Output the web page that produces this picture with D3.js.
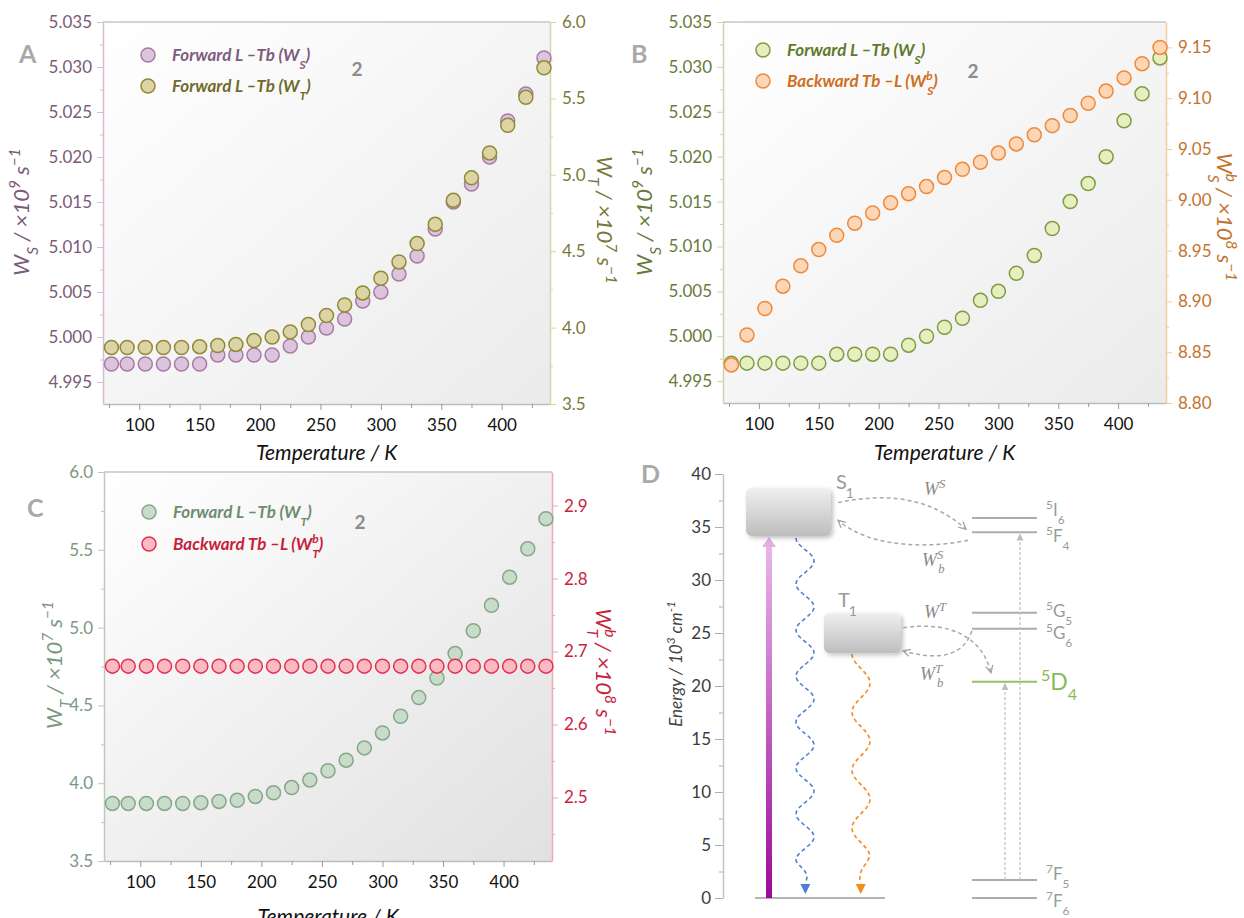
<!DOCTYPE html>
<html>
<head>
<meta charset="utf-8">
<script src="https://cdn.jsdelivr.net/npm/d3@7"></script>
<style>
  body { margin: 0; background: #fff; }
  svg { display: block; }
</style>
</head>
<body>
<svg id="fig" width="1244" height="918"></svg>
<script>
// ---- data ----
const temps = [77, 90, 105, 120, 135, 150, 165, 180, 195, 210, 225, 240, 255,
               270, 285, 300, 315, 330, 345, 360, 375, 390, 405, 420, 435];
// forward singlet rate W_S (x10^9 s^-1)
const wS = [4.997, 4.997, 4.997, 4.997, 4.997, 4.997, 4.998, 4.998, 4.998, 4.998, 4.999, 5.000, 5.001,
            5.002, 5.004, 5.005, 5.007, 5.009, 5.012, 5.015, 5.017, 5.020, 5.024, 5.027, 5.031];
// forward triplet rate W_T (x10^7 s^-1)
const wT = [3.870, 3.870, 3.870, 3.870, 3.870, 3.875, 3.883, 3.890, 3.915, 3.938, 3.972, 4.020, 4.080,
            4.148, 4.227, 4.323, 4.430, 4.550, 4.676, 4.833, 4.980, 5.143, 5.324, 5.507, 5.700];
// backward singlet rate W_S^b (x10^8 s^-1)
const wSb = [8.8375, 8.867, 8.893, 8.915, 8.935, 8.951, 8.965, 8.977, 8.987, 8.997, 9.006, 9.013, 9.022,
             9.030, 9.037, 9.046, 9.055, 9.064, 9.073, 9.083, 9.095, 9.107, 9.120, 9.134, 9.150];
// backward triplet rate W_T^b (x10^8 s^-1)
const wTb = [2.68, 2.68, 2.68, 2.68, 2.68, 2.68, 2.68, 2.68, 2.68, 2.68, 2.68, 2.68, 2.68,
             2.68, 2.68, 2.68, 2.68, 2.68, 2.68, 2.68, 2.68, 2.68, 2.68, 2.68, 2.68];

const xTicks = [100, 150, 200, 250, 300, 350, 400];
const xMinor = [75, 125, 175, 225, 275, 325, 375, 425];
const wsTicks = [4.995, 5.000, 5.005, 5.010, 5.015, 5.020, 5.025, 5.030, 5.035];
const wsMinor = [4.9975, 5.0025, 5.0075, 5.0125, 5.0175, 5.0225, 5.0275, 5.0325];
const wtTicks = [3.5, 4.0, 4.5, 5.0, 5.5, 6.0];
const wtMinor = [3.75, 4.25, 4.75, 5.25, 5.75];
const wsbTicks = [8.80, 8.85, 8.90, 8.95, 9.00, 9.05, 9.10, 9.15];
const wsbMinor = [8.825, 8.875, 8.925, 8.975, 9.025, 9.075, 9.125];
const wtbTicks = [2.5, 2.6, 2.7, 2.8, 2.9];
const wtbMinor = [2.45, 2.55, 2.65, 2.75, 2.85];

// energy level diagram (10^3 cm^-1)
const eTicks = [0, 5, 10, 15, 20, 25, 30, 35, 40];
const eMinor = [2.5, 7.5, 12.5, 17.5, 22.5, 27.5, 32.5, 37.5];
const levelSup = ['5', '5', '5', '5', '5', '7', '7'];
const levelTerm = ['I', 'F', 'G', 'G', 'D', 'F', 'F'];
const levelSub = ['6', '4', '5', '6', '4', '5', '6'];
const levelEnergy = [35.85, 34.5, 26.9, 25.4, 20.4, 1.7, 0];
const s1Range = [34.15, 38.7];
const t1Range = [23.1, 26.9];

const FONT = 'Lato, "Open Sans", "DejaVu Sans", sans-serif';
const SERIF = '"Liberation Serif", "DejaVu Serif", serif';
const tempDomain = [70, 440];

const svg = d3.select('#fig');
const defs = svg.append('defs');

function addBg(id, c2) {
  const lg = defs.append('linearGradient').attr('id', id)
    .attr('x1', 0).attr('y1', 0).attr('x2', 1).attr('y2', 1);
  lg.append('stop').attr('offset', '0%').attr('stop-color', '#ffffff');
  lg.append('stop').attr('offset', '100%').attr('stop-color', c2);
}
addBg('bgAB', '#ebebeb');
addBg('bgC', '#e1e1e1');

// text with sub / superscripts: parts = [[text, kind, dx]]
function rich(sel, parts) {
  parts.forEach(function(p) {
    const t = sel.append('tspan').text(p[0]);
    if (p[1] === 'sub') t.attr('baseline-shift', 'sub').attr('font-size', '70%');
    if (p[1] === 'sup') t.attr('baseline-shift', 'super').attr('font-size', '70%');
    if (p[2]) t.attr('dx', p[2]);
  });
  return sel;
}

function yAxis(g, scale, side, x, major, minor, fmt, color, lineColor, pad) {
  const ax = side === 'left' ? d3.axisLeft(scale) : d3.axisRight(scale);
  const a = g.append('g').attr('transform', 'translate(' + x + ',0)')
    .call(ax.tickValues(major).tickSize(6).tickSizeOuter(0).tickPadding(pad).tickFormat(fmt));
  a.select('.domain').attr('stroke', lineColor).attr('stroke-width', 1.5);
  a.selectAll('.tick line').attr('stroke', lineColor);
  a.selectAll('.tick text').attr('fill', color).attr('font-size', 17).attr('font-family', FONT);
  const ax2 = side === 'left' ? d3.axisLeft(scale) : d3.axisRight(scale);
  const m = g.append('g').attr('transform', 'translate(' + x + ',0)')
    .call(ax2.tickValues(minor).tickSize(3).tickSizeOuter(0).tickFormat(''));
  m.select('.domain').remove();
  m.selectAll('.tick line').attr('stroke', lineColor);
}

function panel(p) {
  const x = d3.scaleLinear().domain(tempDomain).range([p.left, p.right]);
  const yL = d3.scaleLinear().domain(p.L.domain).range([p.bottom, p.top]);
  const yR = d3.scaleLinear().domain(p.R.domain).range([p.bottom, p.top]);
  const g = svg.append('g');

  g.append('rect').attr('x', p.left).attr('y', p.top)
    .attr('width', p.right - p.left).attr('height', p.bottom - p.top)
    .attr('fill', 'url(#' + p.bg + ')');
  g.append('line').attr('x1', p.left).attr('x2', p.right).attr('y1', p.top).attr('y2', p.top)
    .attr('stroke', '#c6c6c6').attr('stroke-width', 1.5);

  // x axis
  const xa = g.append('g').attr('transform', 'translate(0,' + p.bottom + ')')
    .call(d3.axisBottom(x).tickValues(xTicks).tickSize(6).tickSizeOuter(0).tickPadding(9));
  xa.select('.domain').attr('stroke', '#bdbdbd').attr('stroke-width', 1.5);
  xa.selectAll('.tick line').attr('stroke', '#9a9a9a');
  xa.selectAll('.tick text').attr('fill', '#111').attr('font-size', 17).attr('font-family', FONT);
  const xm = g.append('g').attr('transform', 'translate(0,' + p.bottom + ')')
    .call(d3.axisBottom(x).tickValues(xMinor).tickSize(4).tickSizeOuter(0).tickFormat(''));
  xm.select('.domain').remove();
  xm.selectAll('.tick line').attr('stroke', '#9a9a9a');

  yAxis(g, yL, 'left', p.left, p.L.ticks, p.L.minor, p.L.fmt, p.L.color, p.L.line, 5);
  yAxis(g, yR, 'right', p.right, p.R.ticks, p.R.minor, p.R.fmt, p.R.color, p.R.line, 6);

  // titles
  g.append('text').attr('x', (p.left + p.right) / 2).attr('y', p.xTitleY)
    .attr('text-anchor', 'middle').attr('font-family', FONT).attr('font-size', 21)
    .attr('font-style', 'italic').attr('fill', '#111').text('Temperature / K');
  rich(g.append('text')
    .attr('transform', 'translate(' + p.L.titleX + ',' + p.L.titleY + ') rotate(-90)')
    .attr('text-anchor', 'middle').attr('font-family', FONT).attr('font-size', 22)
    .attr('font-style', 'italic').attr('fill', p.L.color), p.L.title);
  rich(g.append('text')
    .attr('transform', 'translate(' + p.R.titleX + ',' + p.R.titleY + ') rotate(90)')
    .attr('text-anchor', 'middle').attr('font-family', FONT).attr('font-size', 22)
    .attr('font-style', 'italic').attr('fill', p.R.color), p.R.title);

  // points
  p.series.forEach(function(s) {
    const y = s.axis === 'L' ? yL : yR;
    g.append('g').selectAll('circle').data(s.values).join('circle')
      .attr('cx', function(d, i) { return x(temps[i]); })
      .attr('cy', function(d) { return y(d); })
      .attr('r', 7)
      .attr('fill', s.fill).attr('stroke', s.stroke).attr('stroke-width', 1.5);
  });

  // legend
  p.series.forEach(function(s, i) {
    const ly = p.legY + i * p.legStep;
    g.append('circle').attr('cx', p.legX).attr('cy', ly).attr('r', 7)
      .attr('fill', s.fill).attr('stroke', s.stroke).attr('stroke-width', 1.5);
    rich(g.append('text').attr('x', p.legX + 24).attr('y', ly + 6)
      .attr('font-family', FONT).attr('font-size', 17).attr('font-weight', 'bold')
      .attr('font-style', 'italic').attr('fill', s.text), s.label);
  });

  g.append('text').attr('x', p.twoX).attr('y', p.twoY).attr('text-anchor', 'middle')
    .attr('font-family', FONT).attr('font-size', 19).attr('font-weight', 'bold')
    .attr('fill', '#8c8c8c').text('2');
  g.append('text').attr('x', p.letterX).attr('y', p.letterY)
    .attr('font-family', FONT).attr('font-size', 25).attr('font-weight', 'bold')
    .attr('fill', '#a9a9a9').text(p.letter);
}

const f3 = d3.format('.3f'), f1 = d3.format('.1f'), f2 = d3.format('.2f');

panel({
  letter: 'A', letterX: 19, letterY: 63, bg: 'bgAB',
  left: 103, right: 550, top: 22, bottom: 404, xTitleY: 460,
  L: { domain: [4.99256, 5.035], ticks: wsTicks, minor: wsMinor, fmt: f3,
       color: '#7b5b78', line: '#d5bcd2', titleX: 29, titleY: 212,
       title: [['W'], ['S', 'sub'], [' / \u00d710'], ['9', 'sup'], [' s'], ['\u22121', 'sup']] },
  R: { domain: [3.5, 6.0], ticks: wtTicks, minor: wtMinor, fmt: f1,
       color: '#7b7838', line: '#d8d5a6', titleX: 597, titleY: 220,
       title: [['W'], ['T', 'sub'], [' / \u00d710'], ['7', 'sup'], [' s'], ['\u22121', 'sup']] },
  series: [
    { values: wS, axis: 'L', fill: '#dcc4dc', stroke: '#a87aa6', text: '#7f5c7c',
      label: [['Forward L \u2013Tb (W'], ['S', 'sub'], [')']] },
    { values: wT, axis: 'R', fill: '#ddd4a6', stroke: '#8f8a34', text: '#6f6b2c',
      label: [['Forward L \u2013Tb (W'], ['T', 'sub'], [')']] }
  ],
  legX: 148, legY: 55, legStep: 31, twoX: 357, twoY: 76
});

panel({
  letter: 'B', letterX: 631, letterY: 63, bg: 'bgAB',
  left: 723, right: 1166, top: 22, bottom: 403, xTitleY: 460,
  L: { domain: [4.99256, 5.035], ticks: wsTicks, minor: wsMinor, fmt: f3,
       color: '#677a3c', line: '#cbd6a6', titleX: 652, titleY: 212,
       title: [['W'], ['S', 'sub'], [' / \u00d710'], ['9', 'sup'], [' s'], ['\u22121', 'sup']] },
  R: { domain: [8.80, 9.175], ticks: wsbTicks, minor: wsbMinor, fmt: f2,
       color: '#c4732c', line: '#f6c9a3', titleX: 1217, titleY: 217,
       title: [['W'], ['b', 'sup'], ['S', 'sub', '-0.45em'], [' / \u00d710'], ['8', 'sup'], [' s'], ['\u22121', 'sup']] },
  series: [
    { values: wS, axis: 'L', fill: '#e8efbf', stroke: '#7f9c45', text: '#5f7a2c',
      label: [['Forward L \u2013Tb (W'], ['S', 'sub'], [')']] },
    { values: wSb, axis: 'R', fill: '#fdd6b6', stroke: '#ef8a3c', text: '#cf6f1e',
      label: [['Backward Tb \u2013L (W'], ['b', 'sup'], ['S', 'sub', '-0.45em'], [')']] }
  ],
  legX: 763, legY: 50, legStep: 31, twoX: 973, twoY: 78
});

panel({
  letter: 'C', letterX: 27, letterY: 517, bg: 'bgC',
  left: 104, right: 552, top: 472, bottom: 861, xTitleY: 924,
  L: { domain: [3.5, 6.0], ticks: wtTicks, minor: wtMinor, fmt: f1,
       color: '#7d977f', line: '#bccabc', titleX: 62, titleY: 665,
       title: [['W'], ['T', 'sub'], [' / \u00d710'], ['7', 'sup'], [' s'], ['\u22121', 'sup']] },
  R: { domain: [2.413, 2.946], ticks: wtbTicks, minor: wtbMinor, fmt: f1,
       color: '#c8243e', line: '#f1a9b5', titleX: 596, titleY: 672,
       title: [['W'], ['b', 'sup'], ['T', 'sub', '-0.45em'], [' / \u00d710'], ['8', 'sup'], [' s'], ['\u22121', 'sup']] },
  series: [
    { values: wT, axis: 'L', fill: '#c9dcc9', stroke: '#86a78a', text: '#6d8c71',
      label: [['Forward L \u2013Tb (W'], ['T', 'sub'], [')']] },
    { values: wTb, axis: 'R', fill: '#fbb9c3', stroke: '#e0304f', text: '#c61f3b',
      label: [['Backward Tb \u2013L (W'], ['b', 'sup'], ['T', 'sub', '-0.45em'], [')']] }
  ],
  legX: 149, legY: 512, legStep: 32, twoX: 360, twoY: 529
});

// ---- panel D: energy level diagram ----
(function() {
  const yE = d3.scaleLinear().domain([0, 40]).range([898, 474]);
  const g = svg.append('g');
  const axX = 723;

  const a = g.append('g').attr('transform', 'translate(' + axX + ',0)')
    .call(d3.axisLeft(yE).tickValues(eTicks).tickSize(8).tickSizeOuter(0).tickPadding(4));
  a.select('.domain').attr('stroke', '#c4c4c4').attr('stroke-width', 1.5);
  a.selectAll('.tick line').attr('stroke', '#b0b0b0');
  a.selectAll('.tick text').attr('fill', '#3c3c3c').attr('font-size', 17).attr('font-family', FONT);
  const m = g.append('g').attr('transform', 'translate(' + axX + ',0)')
    .call(d3.axisLeft(yE).tickValues(eMinor).tickSize(4).tickSizeOuter(0).tickFormat(''));
  m.select('.domain').remove();
  m.selectAll('.tick line').attr('stroke', '#b0b0b0');

  rich(g.append('text').attr('transform', 'translate(682,664) rotate(-90)')
    .attr('text-anchor', 'middle').attr('font-family', FONT).attr('font-size', 17)
    .attr('font-style', 'italic').attr('fill', '#444'),
    [['Energy / 10'], ['3', 'sup'], [' cm'], ['-1', 'sup']]);

  g.append('text').attr('x', 641).attr('y', 483).attr('font-family', FONT)
    .attr('font-size', 25).attr('font-weight', 'bold').attr('fill', '#a9a9a9').text('D');

  // defs for diagram
  const box = defs.append('linearGradient').attr('id', 'boxG')
    .attr('x1', 0).attr('y1', 0).attr('x2', 0).attr('y2', 1);
  box.append('stop').attr('offset', '0%').attr('stop-color', '#f0f0f0');
  box.append('stop').attr('offset', '100%').attr('stop-color', '#bdbdbd');
  const pump = defs.append('linearGradient').attr('id', 'pumpG')
    .attr('x1', 0).attr('y1', 1).attr('x2', 0).attr('y2', 0);
  pump.append('stop').attr('offset', '0%').attr('stop-color', '#9a0a9a');
  pump.append('stop').attr('offset', '100%').attr('stop-color', '#e9b6e9');
  const sh = defs.append('filter').attr('id', 'shadow')
    .attr('x', '-20%').attr('y', '-20%').attr('width', '150%').attr('height', '160%');
  sh.append('feDropShadow').attr('dx', 2).attr('dy', 2).attr('stdDeviation', 2)
    .attr('flood-color', '#000').attr('flood-opacity', 0.25);
  defs.append('marker').attr('id', 'vhead').attr('viewBox', '0 0 10 10')
    .attr('refX', 9).attr('refY', 5).attr('markerWidth', 9).attr('markerHeight', 9)
    .attr('markerUnits', 'userSpaceOnUse').attr('orient', 'auto')
    .append('path').attr('d', 'M1,1 L9,5 L1,9').attr('fill', 'none')
    .attr('stroke', '#a5a5a5').attr('stroke-width', 1.5);
  defs.append('marker').attr('id', 'fhead').attr('viewBox', '0 0 10 10')
    .attr('refX', 9).attr('refY', 5).attr('markerWidth', 7).attr('markerHeight', 7)
    .attr('markerUnits', 'userSpaceOnUse').attr('orient', 'auto')
    .append('path').attr('d', 'M0,0 L10,5 L0,10 Z').attr('fill', '#bdbdbd');

  // ground state line (left side)
  g.append('line').attr('x1', 755).attr('x2', 885).attr('y1', yE(0)).attr('y2', yE(0))
    .attr('stroke', '#b4b4b4').attr('stroke-width', 2);

  // pump arrow
  g.append('rect').attr('x', 766).attr('y', yE(s1Range[0]) + 9).attr('width', 6)
    .attr('height', yE(0) - yE(s1Range[0]) - 9).attr('fill', 'url(#pumpG)');
  g.append('path').attr('d', d3.line()([[762, yE(s1Range[0]) + 11], [769, yE(s1Range[0]) + 1], [776, yE(s1Range[0]) + 11]]) + 'Z')
    .attr('fill', '#e2aee4');

  // wavy decays
  function wave(cx, amp, half, y0, y1, color) {
    const pts = [];
    for (let y = y0; y <= y1; y += 1) {
      const fade = Math.min(1, (y1 - y) / half);
      pts.push([cx - amp * Math.cos(Math.PI * (y - y0) / half) * fade, y]);
    }
    g.append('path').attr('d', d3.line().curve(d3.curveBasis)(pts))
      .attr('fill', 'none').attr('stroke', color).attr('stroke-width', 1.6)
      .attr('stroke-dasharray', '4,3');
    const tx = pts[pts.length - 1][0];
    g.append('path').attr('d', d3.line()([[tx - 5, y1], [tx + 5, y1], [tx, y1 + 10]]) + 'Z')
      .attr('fill', color);
  }
  wave(805, 9, 23, yE(s1Range[0]) + 2, 884, '#4d7fd4');
  wave(861, 9, 29, yE(t1Range[0]) + 1, 884, '#f28c1e');

  // S1 and T1 boxes
  g.append('rect').attr('x', 746).attr('y', yE(s1Range[1])).attr('width', 85)
    .attr('height', yE(s1Range[0]) - yE(s1Range[1])).attr('rx', 6)
    .attr('fill', 'url(#boxG)').attr('filter', 'url(#shadow)');
  g.append('rect').attr('x', 824).attr('y', yE(t1Range[1])).attr('width', 77)
    .attr('height', yE(t1Range[0]) - yE(t1Range[1])).attr('rx', 6)
    .attr('fill', 'url(#boxG)').attr('filter', 'url(#shadow)');
  rich(g.append('text').attr('x', 836).attr('y', 489).attr('font-family', FONT)
    .attr('font-size', 20).attr('fill', '#9a9a9a'), [['S'], ['1', 'sub', '-1']]);
  rich(g.append('text').attr('x', 838).attr('y', 607).attr('font-family', FONT)
    .attr('font-size', 20).attr('fill', '#9a9a9a'), [['T'], ['1', 'sub', '-1']]);

  // Tb levels; label baseline offsets follow the figure
  const labelDy = [-2, 10, 4, 10, 8, 0, 9];
  levelEnergy.forEach(function(e, i) {
    const green = levelTerm[i] === 'D';
    g.append('line').attr('x1', 972).attr('x2', 1037).attr('y1', yE(e)).attr('y2', yE(e))
      .attr('stroke', green ? '#8fc363' : '#acacac').attr('stroke-width', 2);
    rich(g.append('text').attr('x', green ? 1041 : 1046).attr('y', yE(e) + labelDy[i])
      .attr('font-family', FONT).attr('font-size', green ? 23 : 17)
      .attr('fill', green ? '#86bb55' : '#9a9a9a'),
      [[levelSup[i], 'sup'], [levelTerm[i]], [levelSub[i], 'sub']]);
  });

  // dashed vertical transitions on the Tb side
  g.append('line').attr('x1', 1005).attr('x2', 1005).attr('y1', yE(levelEnergy[5]))
    .attr('y2', yE(levelEnergy[4]) + 2).attr('stroke', '#c2c2c2').attr('stroke-width', 1.3)
    .attr('stroke-dasharray', '3,2').attr('marker-end', 'url(#fhead)');
  g.append('line').attr('x1', 1020).attr('x2', 1020).attr('y1', yE(levelEnergy[5]))
    .attr('y2', yE(levelEnergy[1]) + 2).attr('stroke', '#c2c2c2').attr('stroke-width', 1.3)
    .attr('stroke-dasharray', '3,2').attr('marker-end', 'url(#fhead)');

  // energy transfer curves
  function curve(d) {
    g.append('path').attr('d', d).attr('fill', 'none').attr('stroke', '#a8a8a8')
      .attr('stroke-width', 1.5).attr('stroke-dasharray', '4,3').attr('marker-end', 'url(#vhead)');
  }
  const yS = yE(37.3), yF4 = yE(levelEnergy[1]), yG6 = yE(levelEnergy[3]), yD4 = yE(levelEnergy[4]);
  curve('M838,' + yS + ' C885,' + (yS - 10) + ' 930,' + (yS - 6) + ' 966,' + (yF4 - 3));
  curve('M968,' + (yF4 + 8) + ' C930,' + (yF4 + 16) + ' 870,' + (yF4 + 16) + ' 838,' + (yF4 - 12));
  curve('M903,' + (yG6 - 1) + ' C950,' + (yG6 - 8) + ' 982,' + (yG6 + 8) + ' 991,' + (yD4 - 9));
  curve('M972,' + (yG6 + 2) + ' C962,' + (yG6 + 32) + ' 930,' + (yG6 + 30) + ' 903,' + (yG6 + 22));

  function wLabel(x, y, parts) {
    rich(g.append('text').attr('x', x).attr('y', y).attr('font-family', SERIF)
      .attr('font-size', 18).attr('font-style', 'italic').attr('fill', '#8a8a8a'), parts);
  }
  wLabel(924, 495, [['W'], ['S', 'sup']]);
  wLabel(922, 566, [['W'], ['S', 'sup'], ['b', 'sub', '-0.4em']]);
  wLabel(924, 618, [['W'], ['T', 'sup']]);
  wLabel(920, 680, [['W'], ['T', 'sup'], ['b', 'sub', '-0.4em']]);
})();
</script>
</body>
</html>
